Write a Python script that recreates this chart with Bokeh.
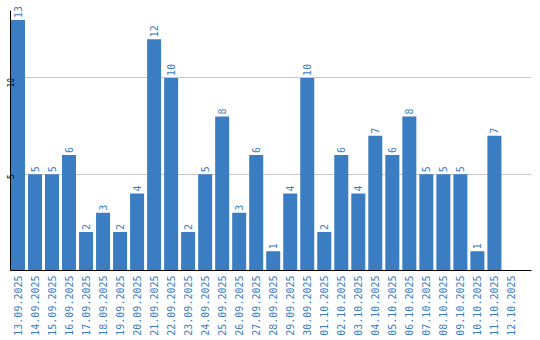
import math
from bokeh.plotting import figure
from bokeh.models import ColumnDataSource, Range1d, FixedTicker
from bokeh.core.properties import value
from bokeh.embed import file_html
from bokeh.resources import INLINE

dates = ["13.09.2025", "14.09.2025", "15.09.2025", "16.09.2025", "17.09.2025",
         "18.09.2025", "19.09.2025", "20.09.2025", "21.09.2025", "22.09.2025",
         "23.09.2025", "24.09.2025", "25.09.2025", "26.09.2025", "27.09.2025",
         "28.09.2025", "29.09.2025", "30.09.2025", "01.10.2025", "02.10.2025",
         "03.10.2025", "04.10.2025", "05.10.2025", "06.10.2025", "07.10.2025",
         "08.10.2025", "09.10.2025", "10.10.2025", "11.10.2025", "12.10.2025"]
counts = [13, 5, 5, 6, 2, 3, 2, 4, 12, 10,
          2, 5, 8, 3, 6, 1, 4, 10, 2, 6,
          4, 7, 6, 8, 5, 5, 5, 1, 7, 0]
y_ticks = [5, 10]

BLUE = "#3b7dc3"
FONT = "DejaVu Sans Mono"

xs = list(range(len(dates)))
src = ColumnDataSource(dict(
    x=xs, y=counts,
    label=[str(c) if c > 0 else "" for c in counts],
))

p = figure(width=540, height=340, output_backend="svg", toolbar_location=None,
           x_range=Range1d(-0.44, 30.18), y_range=Range1d(0, 13.81),
           min_border_left=0, min_border_right=9, min_border_top=4,
           min_border_bottom=70)
p.outline_line_color = None
p.background_fill_color = "white"
p.border_fill_color = "white"

p.vbar(x="x", top="y", width=14 / 17, bottom=0, source=src,
       fill_color=BLUE, line_color=None)

p.text(x="x", y="y", text="label", source=src, angle=math.pi / 2,
       text_align="left", text_baseline="middle", y_offset=-2,
       text_font=value(FONT), text_font_size="10px", text_color=BLUE)

# x axis
p.xaxis.ticker = FixedTicker(ticks=xs)
p.xaxis.major_label_overrides = {i: d for i, d in enumerate(dates)}
p.xaxis.major_label_orientation = math.pi / 2
p.xaxis.major_label_text_font = FONT
p.xaxis.major_label_text_font_size = "10px"
p.xaxis.major_label_text_color = BLUE
p.xaxis.major_tick_line_color = None
p.xaxis.minor_tick_line_color = None
p.xaxis.major_tick_out = 0
p.xaxis.major_label_standoff = 5
p.xaxis.axis_line_color = "black"
p.xaxis.axis_line_width = 1

# y axis
p.yaxis.ticker = FixedTicker(ticks=y_ticks)
p.yaxis.bounds = (0, 13.5)
p.yaxis.major_label_orientation = math.pi / 2
p.yaxis.major_label_text_font = FONT
p.yaxis.major_label_text_font_size = "8px"
p.yaxis.major_label_text_color = "black"
p.yaxis.major_tick_line_color = None
p.yaxis.minor_tick_line_color = None
p.yaxis.major_tick_out = 0
p.yaxis.major_label_standoff = 0
p.yaxis.axis_line_color = "black"
p.yaxis.axis_line_width = 1

p.xgrid.grid_line_color = None
p.ygrid.ticker = FixedTicker(ticks=y_ticks)
p.ygrid.grid_line_color = "#c8c8c8"
p.ygrid.grid_line_width = 1

open("out.html", "w").write(file_html(p, INLINE))
